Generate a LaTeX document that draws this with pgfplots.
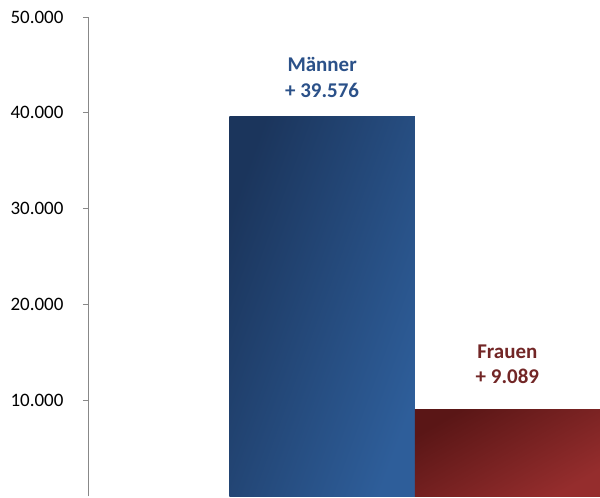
\documentclass[border=0pt]{standalone}
\usepackage{pgfplots}
\pgfplotsset{compat=1.18}
\usepackage{fontspec}
\setmainfont{Carlito}
\definecolor{mA}{HTML}{1B355C}
\definecolor{mB}{HTML}{2E5E9A}
\definecolor{fA}{HTML}{5A1616}
\definecolor{fB}{HTML}{952D2D}
\definecolor{mL}{HTML}{2B5189}
\definecolor{fL}{HTML}{722626}
\definecolor{ax}{HTML}{888888}
\begin{document}
\begin{tikzpicture}
\begin{axis}[
  width=511bp, height=480bp, scale only axis,
  xmin=0, xmax=2.755, ymin=0, ymax=50000,
  axis x line=none, axis y line*=left,
  y axis line style={draw=ax, line width=0.8pt},
  ytick={10000,20000,30000,40000,50000},
  scaled y ticks=false,
  ytick style={draw=ax, line width=0.8pt},
  tick align=outside, major tick length=6bp,
  yticklabel style={/pgf/number format/fixed, /pgf/number format/1000 sep={.},
    /pgf/number format/assume math mode=true,
    font=\fontsize{19bp}{22bp}\selectfont, text=black, xshift=-16bp},
  clip=false,
  ybar, bar width=1, bar shift=0pt,
  nodes near coords align=vertical,
]
\addplot[draw=none, left color=mA, right color=mB, shading angle=70,
  nodes near coords={Männer\\+ 39.576},
  every node near coord/.append style={align=center, text=mL, font=\bfseries\fontsize{21bp}{25.5bp}\selectfont, yshift=16bp}]
  coordinates {(1.259,39576)};
\addplot[draw=none, left color=fA, right color=fB, shading angle=30,
  nodes near coords={Frauen\\+ 9.089},
  every node near coord/.append style={align=center, text=fL, font=\bfseries\fontsize{21bp}{25.5bp}\selectfont, yshift=22bp}]
  coordinates {(2.259,9089)};
\coordinate (o) at (rel axis cs:0,0);
\end{axis}
\path (o) ++(-89bp,-1bp) rectangle ++(600bp,498bp);
\end{tikzpicture}
\end{document}
